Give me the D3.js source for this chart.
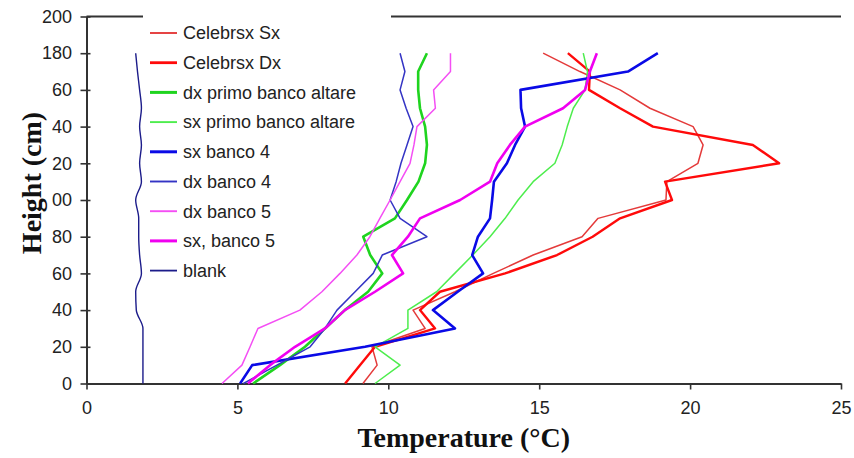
<!DOCTYPE html>
<html>
<head>
<meta charset="utf-8">
<script src="https://cdn.jsdelivr.net/npm/d3@7"></script>
<style>
  body { margin: 0; background: #fff; }
  svg { display: block; }
</style>
</head>
<body>
<div id="chart"></div>
<script>
var width = 854,
  height = 458;

// heights (cm) at which every profile was measured
var heights = [0, 10, 20, 30, 40, 50, 60, 70, 80, 90, 100, 110, 120, 130, 140, 150, 160, 170, 180];

// temperatures (°C), bottom to top
var celebrsxSx = [9.16, 9.63, 9.46, 11.22, 10.82, 12.21, 13.48, 14.8, 16.42, 16.95, 19.2, 19.23, 20.26, 20.43, 20.1, 18.67, 17.68, 16.35, 15.13];
var celebrsxDx = [8.57, 9.06, 9.56, 11.55, 11.05, 11.71, 13.87, 15.59, 16.77, 17.68, 19.4, 19.17, 22.95, 22.08, 18.77, 17.68, 16.65, 16.68, 15.95];
var dxPrimo = [5.52, 6.41, 7.24, 7.9, 8.56, 9.33, 9.8, 9.4, 9.17, 10.22, 10.62, 11.0, 11.22, 11.28, 11.22, 11.05, 10.99, 10.99, 11.28];
var sxPrimo = [9.56, 10.39, 9.56, 10.65, 10.65, 11.6, 12.2, 12.8, 13.37, 13.87, 14.3, 14.8, 15.52, 15.76, 15.93, 16.13, 16.52, 16.6, 16.46];
var sxBanco4 = [5.09, 5.49, 9.23, 12.21, 11.48, 12.3, 13.14, 12.78, 12.97, 13.37, 13.44, 13.5, 13.93, 14.2, 14.53, 14.4, 14.38, 17.94, 18.93];
var dxBanco4 = [5.2, 6.31, 7.41, 7.9, 8.3, 8.9, 9.5, 9.8, 11.28, 10.39, 10.06, 10.26, 10.42, 10.62, 10.82, 10.59, 10.39, 10.55, 10.39];
var dxBanco5 = [4.49, 5.15, 5.42, 5.68, 7.07, 7.8, 8.4, 8.96, 9.39, 9.72, 10.06, 10.39, 10.72, 10.85, 10.95, 11.56, 11.5, 12.06, 12.06];
var sxBanco5 = [5.35, 6.08, 6.91, 7.9, 8.56, 9.56, 10.49, 10.12, 10.65, 11.05, 12.38, 13.37, 13.61, 14.03, 14.53, 15.79, 16.52, 16.68, 16.91];
var blank = [1.87, 1.87, 1.87, 1.87, 1.65, 1.63, 1.82, 1.76, 1.73, 1.73, 1.63, 1.82, 1.76, 1.82, 1.76, 1.82, 1.76, 1.69, 1.63];

var seriesNames = ["Celebrsx Sx", "Celebrsx Dx", "dx primo banco altare", "sx primo banco altare",
  "sx banco 4", "dx banco 4", "dx banco 5", "sx, banco 5", "blank"];
var seriesValues = [celebrsxSx, celebrsxDx, dxPrimo, sxPrimo, sxBanco4, dxBanco4, dxBanco5, sxBanco5, blank];
var seriesColors = ["#e43a3a", "#ff0a0a", "#1fd41f", "#4ded4d", "#0a0ae6", "#3434c4", "#f44ef4", "#f000f0", "#1c1c8a"];
var seriesWidths = [1.5, 2.4, 2.6, 1.5, 2.6, 1.5, 1.5, 2.6, 1.4];

var xTicks = [0, 5, 10, 15, 20, 25];
var xTickLabels = ["0", "5", "10", "15", "20", "25"];
var yTicks = [0, 20, 40, 60, 80, 100, 120, 140, 160, 180, 200];
// as printed in the picture (leading "1" hidden behind the axis title)
var yTickLabels = ["0", "20", "40", "60", "80", "00", "20", "40", "60", "180", "200"];

var x = d3.scaleLinear().domain([0, 25]).range([86.5, 841]);
var y = d3.scaleLinear().domain([0, 200]).range([383.5, 16.5]);

var svg = d3.select("#chart")
  .append("svg")
  .attr("width", width)
  .attr("height", height)
  .style("font-family", "'Liberation Sans', Arial, sans-serif");

// top frame line (hidden behind the legend in the middle)
svg.append("line")
  .attr("x1", x(0)).attr("x2", x(25))
  .attr("y1", y(200)).attr("y2", y(200))
  .attr("stroke", "#333").attr("stroke-width", 2);

// legend background sits under the curves
var legX = 143, legY = 8;
svg.append("rect")
  .attr("x", legX).attr("y", legY)
  .attr("width", 248).attr("height", 278)
  .attr("fill", "#fff");

// axes
var xAxis = svg.append("g")
  .attr("transform", "translate(0," + y(0) + ")")
  .call(d3.axisBottom(x).tickValues(xTicks).tickSizeInner(6).tickSizeOuter(0).tickPadding(12)
    .tickFormat(function (d, i) { return xTickLabels[i]; }));

var yAxis = svg.append("g")
  .attr("transform", "translate(" + x(0) + ",0)")
  .call(d3.axisLeft(y).tickValues(yTicks).tickSizeInner(6).tickSizeOuter(0).tickPadding(8.5)
    .tickFormat(function (d, i) { return yTickLabels[i]; }));

yAxis.selectAll(".tick line").attr("x1", 4);

[xAxis, yAxis].forEach(function (g) {
  g.select(".domain").attr("stroke", "#333").attr("stroke-width", 2);
  g.selectAll(".tick line").attr("stroke", "#333").attr("stroke-width", 1.6);
  g.selectAll(".tick text")
    .attr("fill", "#222")
    .style("font-size", "18px")
    .style("font-family", "'Liberation Sans', Arial, sans-serif");
});

// curves
var line = d3.line()
  .x(function (d) { return x(d[0]); })
  .y(function (d) { return y(d[1]); });

// the blank profile is drawn smoothed in the original
var smoothLine = d3.line()
  .x(function (d) { return x(d[0]); })
  .y(function (d) { return y(d[1]); })
  .curve(d3.curveMonotoneY);

seriesValues.forEach(function (vals, i) {
  var pts = vals.map(function (v, j) { return [v, heights[j]]; });
  svg.append("path")
    .datum(pts)
    .attr("d", seriesNames[i] == "blank" ? smoothLine : line)
    .attr("fill", "none")
    .attr("stroke", seriesColors[i])
    .attr("stroke-width", seriesWidths[i])
    .attr("stroke-linejoin", "round");
});

// legend items
var legend = svg.append("g");
seriesNames.forEach(function (name, i) {
  var ly = 33 + i * 29.7;
  legend.append("line")
    .attr("x1", 150).attr("x2", 177)
    .attr("y1", ly).attr("y2", ly)
    .attr("stroke", seriesColors[i])
    .attr("stroke-width", seriesWidths[i] + 0.4);
  legend.append("text")
    .attr("x", 183).attr("y", ly)
    .attr("dy", "0.35em")
    .attr("fill", "#222")
    .style("font-size", "18px")
    .text(name);
});

// axis titles
svg.append("text")
  .attr("x", (x(0) + x(25)) / 2)
  .attr("y", 447)
  .attr("text-anchor", "middle")
  .style("font-family", "'Liberation Serif', 'Times New Roman', serif")
  .style("font-weight", "bold")
  .style("font-size", "28px")
  .attr("fill", "#111")
  .text("Temperature (°C)");

svg.append("text")
  .attr("transform", "translate(41,183) rotate(-90)")
  .attr("text-anchor", "middle")
  .style("font-family", "'Liberation Serif', 'Times New Roman', serif")
  .style("font-weight", "bold")
  .style("font-size", "28px")
  .attr("fill", "#111")
  .text("Height (cm)");
</script>
</body>
</html>
